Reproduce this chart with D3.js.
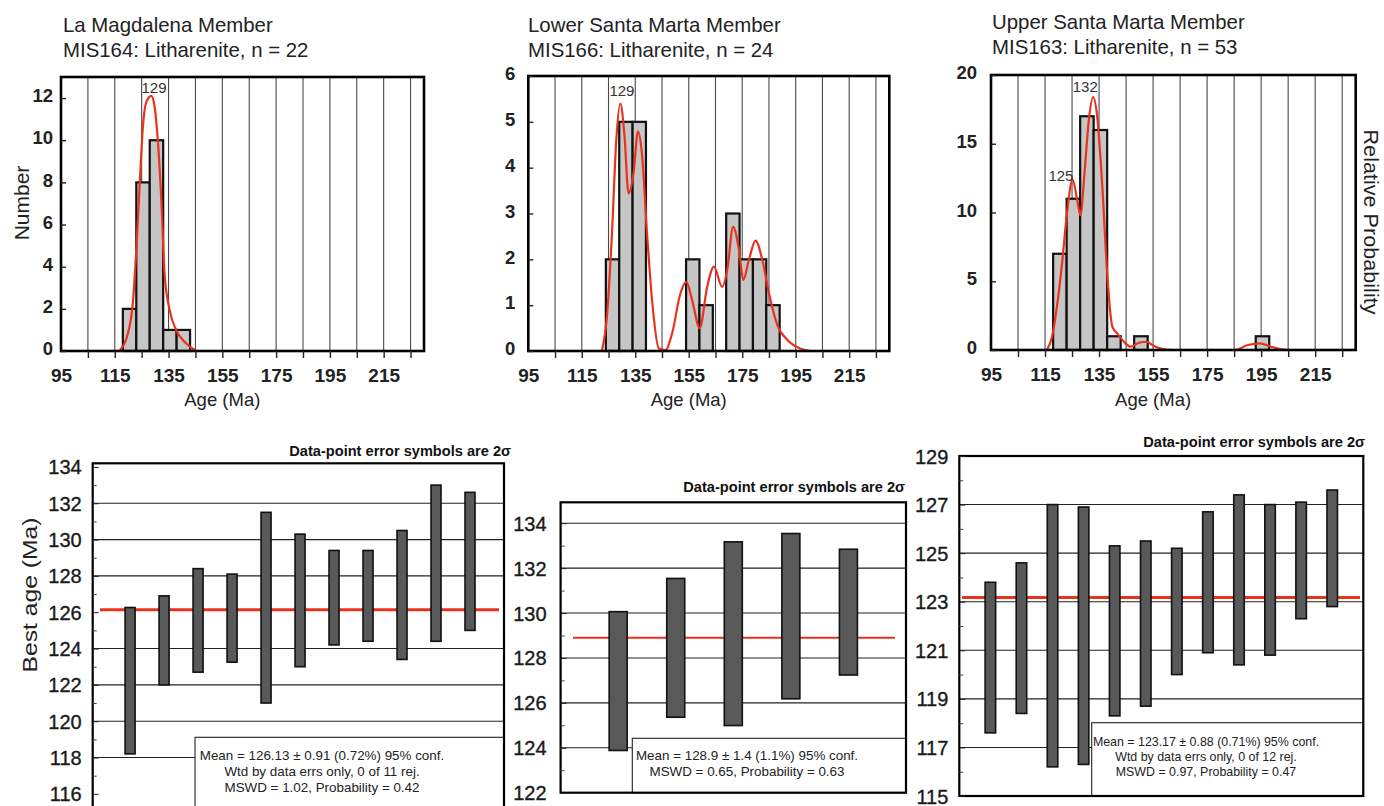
<!DOCTYPE html>
<html><head><meta charset="utf-8">
<script src="https://cdn.jsdelivr.net/npm/d3@7"></script>
<style>
html,body{margin:0;padding:0;background:#fff;}
svg{display:block;font-family:"Liberation Sans",Arial,Helvetica,sans-serif;}
</style></head><body>
<svg id="chart" width="1384" height="806"></svg>
<script>
// ---------------- DATA ----------------
// shared age axis (histograms)
const ageTickLabels = [95, 115, 135, 155, 175, 195, 215];
const ageMinorTicks = [105, 115, 125, 135, 145, 155, 165, 175, 185, 195, 205, 215, 225];
const ageGridLines = [105, 115, 125, 135, 145, 155, 165, 175, 185, 195, 205, 215, 225];

// La Magdalena Member (MIS164)
const magTitle = ["La Magdalena Member", "MIS164: Litharenite, n = 22"];
const magBinStarts = [118, 123, 128, 133, 138];
const magCounts = [2, 8, 10, 1, 1];
const magCurveAge = [116.5, 119.9, 121.8, 123.0, 124.3, 125.5, 126.7, 128.6, 129.8, 131.0, 132.3, 133.5, 135.4, 137.8, 141.5, 145.3];
const magCurveVal = [0, 0.84, 2.4, 4.8, 8.0, 10.7, 11.8, 12.1, 11.6, 10.0, 7.2, 3.7, 1.95, 1.0, 0.37, 0];
const magYTicks = [0, 2, 4, 6, 8, 10, 12];
const magPeakLabels = ["129"];
const magPeakAge = [129.6];
const magPeakVal = [12.5];

// Lower Santa Marta Member (MIS166)
const lsmTitle = ["Lower Santa Marta Member", "MIS166: Litharenite, n = 24"];
const lsmBinStarts = [124, 129, 134, 154, 159, 169, 174, 179, 184];
const lsmCounts = [2, 5, 5, 2, 1, 3, 2, 2, 1];
const lsmCurveAge = [122.5, 124.4, 126.3, 127.9, 129.4, 130.9, 132.5, 134.4, 136.0, 137.5, 139.4, 141.3, 143.8, 146.3, 148.8, 151.9, 154.1, 156.3, 159.1, 161.9, 164.4, 167.5, 169.4, 171.6, 173.8, 175.4, 177.5, 180.0, 182.5, 185.0, 188.1, 191.9, 196.9, 200.6];
const lsmCurveVal = [0, 0.75, 2.57, 4.6, 5.4, 4.75, 3.44, 3.9, 4.79, 4.3, 2.57, 1.1, 0.06, 0.02, 0.39, 1.26, 1.51, 1.1, 0.5, 1.4, 1.84, 1.4, 1.77, 2.71, 2.2, 1.55, 1.99, 2.41, 1.99, 1.26, 0.57, 0.24, 0.05, 0];
const lsmYTicks = [0, 1, 2, 3, 4, 5, 6];
const lsmPeakLabels = ["129"];
const lsmPeakAge = [130.0];
const lsmPeakVal = [5.68];

// Upper Santa Marta Member (MIS163)
const usmTitle = ["Upper Santa Marta Member", "MIS163: Litharenite, n = 53"];
const usmBinStarts = [118, 123, 128, 133, 138, 148, 193];
const usmCounts = [7, 11, 17, 16, 1, 1, 1];
const usmCurveAge = [115.7, 117.6, 119.4, 121.3, 123.1, 125.2, 126.9, 128.1, 129.6, 131.2, 132.8, 134.3, 136.2, 138.0, 139.9, 141.7, 144.2, 146.7, 149.8, 152.6, 155.3, 159.1, 162.7, 185.1, 190.1, 194.4, 198.7, 202.4, 204.9];
const usmCurveVal = [0, 0.97, 3.15, 6.3, 9.9, 12.4, 10.9, 9.8, 12.85, 16.7, 18.4, 17.0, 11.9, 5.6, 1.7, 1.2, 0.6, 0.24, 0.53, 0.6, 0.29, 0.05, 0, 0, 0.36, 0.48, 0.24, 0.05, 0];
const usmYTicks = [0, 5, 10, 15, 20];
const usmPeakLabels = ["125", "132"];
const usmPeakAge = [120.9, 129.9];
const usmPeakVal = [12.7, 19.15];

// Weighted mean plots
const wm1Low  = [118.2, 122.0, 122.7, 123.25, 121.0, 123.0, 124.2, 124.4, 123.4, 124.4, 125.0];
const wm1High = [126.26, 126.9, 128.4, 128.1, 131.5, 130.3, 129.4, 129.4, 130.5, 133.0, 132.6];
const wm1Mean = 126.13;
const wm1YTicks = [116, 118, 120, 122, 124, 126, 128, 130, 132, 134];
const wm1Grid = [118, 120, 122, 124, 128, 130, 132];
const wm1Minor = [115, 117, 119, 121, 123, 125, 127, 129, 131, 133];
const wm1Text = ["Mean = 126.13 ± 0.91 (0.72%) 95% conf.", "Wtd by data errs only, 0 of 11 rej.", "MSWD = 1.02, Probability = 0.42"];

const wm2Low  = [123.88, 125.36, 124.99, 126.18, 127.24];
const wm2High = [130.06, 131.54, 133.17, 133.54, 132.84];
const wm2Mean = 128.9;
const wm2YTicks = [122, 124, 126, 128, 130, 132, 134];
const wm2Grid = [124, 126, 128, 130, 132, 134];
const wm2Minor = [123, 125, 127, 129, 131, 133];
const wm2Text = ["Mean = 128.9 ± 1.4 (1.1%) 95% conf.", "MSWD = 0.65, Probability = 0.63"];

const wm3Low  = [117.6, 118.4, 116.2, 116.3, 118.3, 118.7, 120.0, 120.9, 120.4, 120.8, 122.3, 122.8];
const wm3High = [123.8, 124.6, 127.0, 126.9, 125.3, 125.5, 125.2, 126.7, 127.4, 127.0, 127.1, 127.6];
const wm3Mean = 123.17;
const wm3YTicks = [115, 117, 119, 121, 123, 125, 127, 129];
const wm3Grid = [117, 119, 121, 123, 125, 127];
const wm3Minor = [116, 118, 120, 122, 124, 126, 128];
const wm3Text = ["Mean = 123.17 ± 0.88 (0.71%) 95% conf.", "Wtd by data errs only, 0 of 12 rej.", "MSWD = 0.97, Probability = 0.47"];

const wmTitle = "Data-point error symbols are 2σ";

// ---------------- DRAWING ----------------
const svg = d3.select("#chart");
const AGE_DOMAIN = [95, 230];
const binWidth = 5;
const RED = "#e8321e";
const FONT = '"Liberation Sans", Arial, Helvetica, sans-serif';

function drawHistogram(p) {
  const g = svg.append("g");
  const x = d3.scaleLinear().domain(AGE_DOMAIN).range([p.left, p.right]);
  const y = d3.scaleLinear().domain([0, p.yMax]).range([p.bottom, p.top]);

  g.selectAll("text.title").data(p.title).join("text")
    .attr("x", p.titleX).attr("y", (d, i) => p.titleY + i * 25)
    .attr("dy", "0.35em").attr("font-size", 20.4).attr("fill", "#222").text(d => d);

  g.selectAll("line.grid").data(ageGridLines).join("line")
    .attr("x1", d => x(d)).attr("x2", d => x(d))
    .attr("y1", p.top).attr("y2", p.bottom)
    .attr("stroke", "#4a4a4a").attr("stroke-width", 1.1);

  const bins = p.binStarts.map((s, i) => ({ start: s, count: p.counts[i] }));
  g.selectAll("rect.bar").data(bins).join("rect")
    .attr("x", d => x(d.start)).attr("width", d => x(d.start + binWidth) - x(d.start))
    .attr("y", d => y(d.count)).attr("height", d => y(0) - y(d.count))
    .attr("fill", "#c6c6c6").attr("stroke", "#111").attr("stroke-width", 2.2);

  const pts = p.curveAge.map((a, i) => ({ age: a, val: p.curveVal[i] }));
  const line = d3.line().x(d => x(d.age)).y(d => y(d.val)).curve(d3.curveMonotoneX);
  g.append("path").datum(pts).attr("d", line)
    .attr("fill", "none").attr("stroke", RED).attr("stroke-width", 2.2);

  const peaks = p.peakLabels.map((t, i) => ({ t, age: p.peakAge[i], val: p.peakVal[i] }));
  g.selectAll("text.peak").data(peaks).join("text")
    .attr("x", d => x(d.age)).attr("y", d => y(d.val)).attr("dy", "0.35em")
    .attr("text-anchor", "middle").attr("font-size", 15).attr("fill", "#333").text(d => d.t);

  g.append("rect").attr("x", p.left).attr("y", p.top)
    .attr("width", p.right - p.left).attr("height", p.bottom - p.top)
    .attr("fill", "none").attr("stroke", "#000").attr("stroke-width", 2.6);

  const xm = g.append("g").attr("transform", `translate(0,${p.bottom})`)
    .call(d3.axisBottom(x).tickValues(ageMinorTicks).tickSize(7).tickFormat(""));
  xm.select(".domain").remove();
  xm.selectAll("line").attr("stroke", "#222").attr("stroke-width", 1.4);
  const xa = g.append("g").attr("transform", `translate(0,${p.bottom})`)
    .call(d3.axisBottom(x).tickValues(ageTickLabels).tickSize(0).tickFormat(d3.format("d")));
  xa.select(".domain").remove();
  xa.selectAll("text").attr("y", 24).attr("dy", "0.35em")
    .attr("font-size", 19).attr("font-family", FONT).attr("font-weight", "bold").attr("fill", "#222");

  const ya = g.append("g").attr("transform", `translate(${p.left},0)`)
    .call(d3.axisLeft(y).tickValues(p.yTicks).tickSize(-5).tickFormat(d3.format("d")));
  ya.select(".domain").remove();
  ya.selectAll("line").attr("stroke", "#222").attr("stroke-width", 1.4);
  ya.selectAll("text").attr("x", -p.yGap).attr("dy", "0.2em")
    .attr("font-size", 18.5).attr("font-family", FONT).attr("font-weight", "bold").attr("fill", "#222");

  g.append("text").attr("x", x(155)).attr("y", 400).attr("dy", "0.35em")
    .attr("text-anchor", "middle").attr("font-size", 18.5).attr("fill", "#222").text("Age (Ma)");
}

function drawWeighted(p) {
  const g = svg.append("g");
  const x = d3.scaleLinear().domain(p.xDomain).range([p.left, p.right]);
  const y = d3.scaleLinear().domain(p.yDomain).range([p.bottom, p.top]);

  g.selectAll("line.grid").data(p.grid).join("line")
    .attr("x1", p.left).attr("x2", p.right)
    .attr("y1", d => y(d)).attr("y2", d => y(d))
    .attr("stroke", "#222").attr("stroke-width", 1.1);

  g.append("line").attr("x1", p.meanX0).attr("x2", p.meanX1)
    .attr("y1", y(p.mean)).attr("y2", y(p.mean))
    .attr("stroke", RED).attr("stroke-width", p.meanW);

  const data = p.low.map((lo, i) => ({ i: i + 1, lo, hi: p.high[i] }));
  g.selectAll("rect.err").data(data).join("rect")
    .attr("x", d => x(d.i) - p.barW / 2).attr("width", p.barW)
    .attr("y", d => y(d.hi)).attr("height", d => y(d.lo) - y(d.hi))
    .attr("fill", "#595959").attr("stroke", "#111").attr("stroke-width", 1.6);

  g.append("rect").attr("x", p.boxX).attr("y", p.boxY)
    .attr("width", p.right - p.boxX).attr("height", p.bottom - p.boxY)
    .attr("fill", "#fff").attr("stroke", "#222").attr("stroke-width", 1.1);
  g.selectAll("text.mean").data(p.text).join("text")
    .attr("x", p.textX).attr("y", (d, i) => p.textY + i * p.lineH).attr("dy", "0.35em")
    .attr("text-anchor", "middle").attr("font-size", p.textSize).attr("fill", "#222").text(d => d);

  g.append("rect").attr("x", p.left).attr("y", p.top)
    .attr("width", p.right - p.left).attr("height", p.bottom - p.top)
    .attr("fill", "none").attr("stroke", "#000").attr("stroke-width", 2.2);

  const ya = g.append("g").attr("transform", `translate(${p.left},0)`)
    .call(d3.axisLeft(y).tickValues(p.yTicks).tickSize(-6).tickFormat(d3.format("d")));
  ya.select(".domain").remove();
  ya.selectAll("line").attr("stroke", "#222");
  ya.selectAll("text").attr("x", -p.yGap).attr("dy", "0.35em")
    .attr("font-size", 20).attr("font-family", FONT).attr("fill", "#1a1a1a")
    .attr("stroke", "#1a1a1a").attr("stroke-width", 0.35);
  const ym = g.append("g").attr("transform", `translate(${p.left},0)`)
    .call(d3.axisLeft(y).tickValues(p.minor).tickSize(-4).tickFormat(""));
  ym.select(".domain").remove();
  ym.selectAll("line").attr("stroke", "#444");

  g.append("text").attr("x", p.titleX).attr("y", p.titleY).attr("dy", "0.35em")
    .attr("text-anchor", "end").attr("font-size", 14.6).attr("font-weight", "bold")
    .attr("fill", "#111").text(wmTitle);
}

drawHistogram({ left: 61, right: 424, top: 77, bottom: 351, yMax: 13, yTicks: magYTicks, yGap: 8,
  binStarts: magBinStarts, counts: magCounts, curveAge: magCurveAge, curveVal: magCurveVal,
  peakLabels: magPeakLabels, peakAge: magPeakAge, peakVal: magPeakVal,
  title: magTitle, titleX: 63, titleY: 25 });
drawHistogram({ left: 528.3, right: 889.3, top: 76, bottom: 351, yMax: 6, yTicks: lsmYTicks, yGap: 13,
  binStarts: lsmBinStarts, counts: lsmCounts, curveAge: lsmCurveAge, curveVal: lsmCurveVal,
  peakLabels: lsmPeakLabels, peakAge: lsmPeakAge, peakVal: lsmPeakVal,
  title: lsmTitle, titleX: 528, titleY: 25 });
drawHistogram({ left: 991, right: 1355.7, top: 75, bottom: 350, yMax: 20, yTicks: usmYTicks, yGap: 14,
  binStarts: usmBinStarts, counts: usmCounts, curveAge: usmCurveAge, curveVal: usmCurveVal,
  peakLabels: usmPeakLabels, peakAge: usmPeakAge, peakVal: usmPeakVal,
  title: usmTitle, titleX: 992, titleY: 21.7 });

svg.append("text").attr("transform", "translate(21.7,203) rotate(-90)")
  .attr("text-anchor", "middle").attr("dy", "0.35em").attr("font-size", 21).attr("fill", "#222").text("Number");
svg.append("text").attr("transform", "translate(1371,222) rotate(90)")
  .attr("text-anchor", "middle").attr("dy", "0.35em").attr("font-size", 20)
  .attr("textLength", 185).attr("lengthAdjust", "spacingAndGlyphs").attr("fill", "#222").text("Relative Probability");

drawWeighted({ left: 92.7, right: 504, top: 463.3, bottom: 812, yDomain: [115, 134.2], xDomain: [-0.1, 12],
  low: wm1Low, high: wm1High, mean: wm1Mean, yTicks: wm1YTicks, grid: wm1Grid, minor: wm1Minor,
  barW: 10, meanX0: 100, meanX1: 499, meanW: 3, yGap: 11,
  boxX: 195, boxY: 737.3, text: wm1Text, textX: 322, textY: 755, lineH: 16.3, textSize: 13.4,
  titleX: 511, titleY: 451 });
drawWeighted({ left: 560.6, right: 906, top: 502.3, bottom: 792.7, yDomain: [122, 134.93], xDomain: [0, 6],
  low: wm2Low, high: wm2High, mean: wm2Mean, yTicks: wm2YTicks, grid: wm2Grid, minor: wm2Minor,
  barW: 18, meanX0: 573, meanX1: 895, meanW: 2, yGap: 14,
  boxX: 632.3, boxY: 738.3, text: wm2Text, textX: 747, textY: 755, lineH: 16, textSize: 13.4,
  titleX: 905, titleY: 486.7 });
drawWeighted({ left: 959.3, right: 1363.3, top: 456, bottom: 796, yDomain: [115, 129], xDomain: [0, 13],
  low: wm3Low, high: wm3High, mean: wm3Mean, yTicks: wm3YTicks, grid: wm3Grid, minor: wm3Minor,
  barW: 10.5, meanX0: 962, meanX1: 1360, meanW: 3, yGap: 11,
  boxX: 1091.7, boxY: 722.7, text: wm3Text, textX: 1206, textY: 741.7, lineH: 15, textSize: 12.4,
  titleX: 1365, titleY: 442.3 });

svg.append("text").attr("transform", "translate(30,595) rotate(-90)")
  .attr("text-anchor", "middle").attr("dy", "0.35em").attr("font-size", 21)
  .attr("textLength", 155).attr("lengthAdjust", "spacingAndGlyphs").attr("fill", "#222").text("Best age (Ma)");
</script>
</body></html>
